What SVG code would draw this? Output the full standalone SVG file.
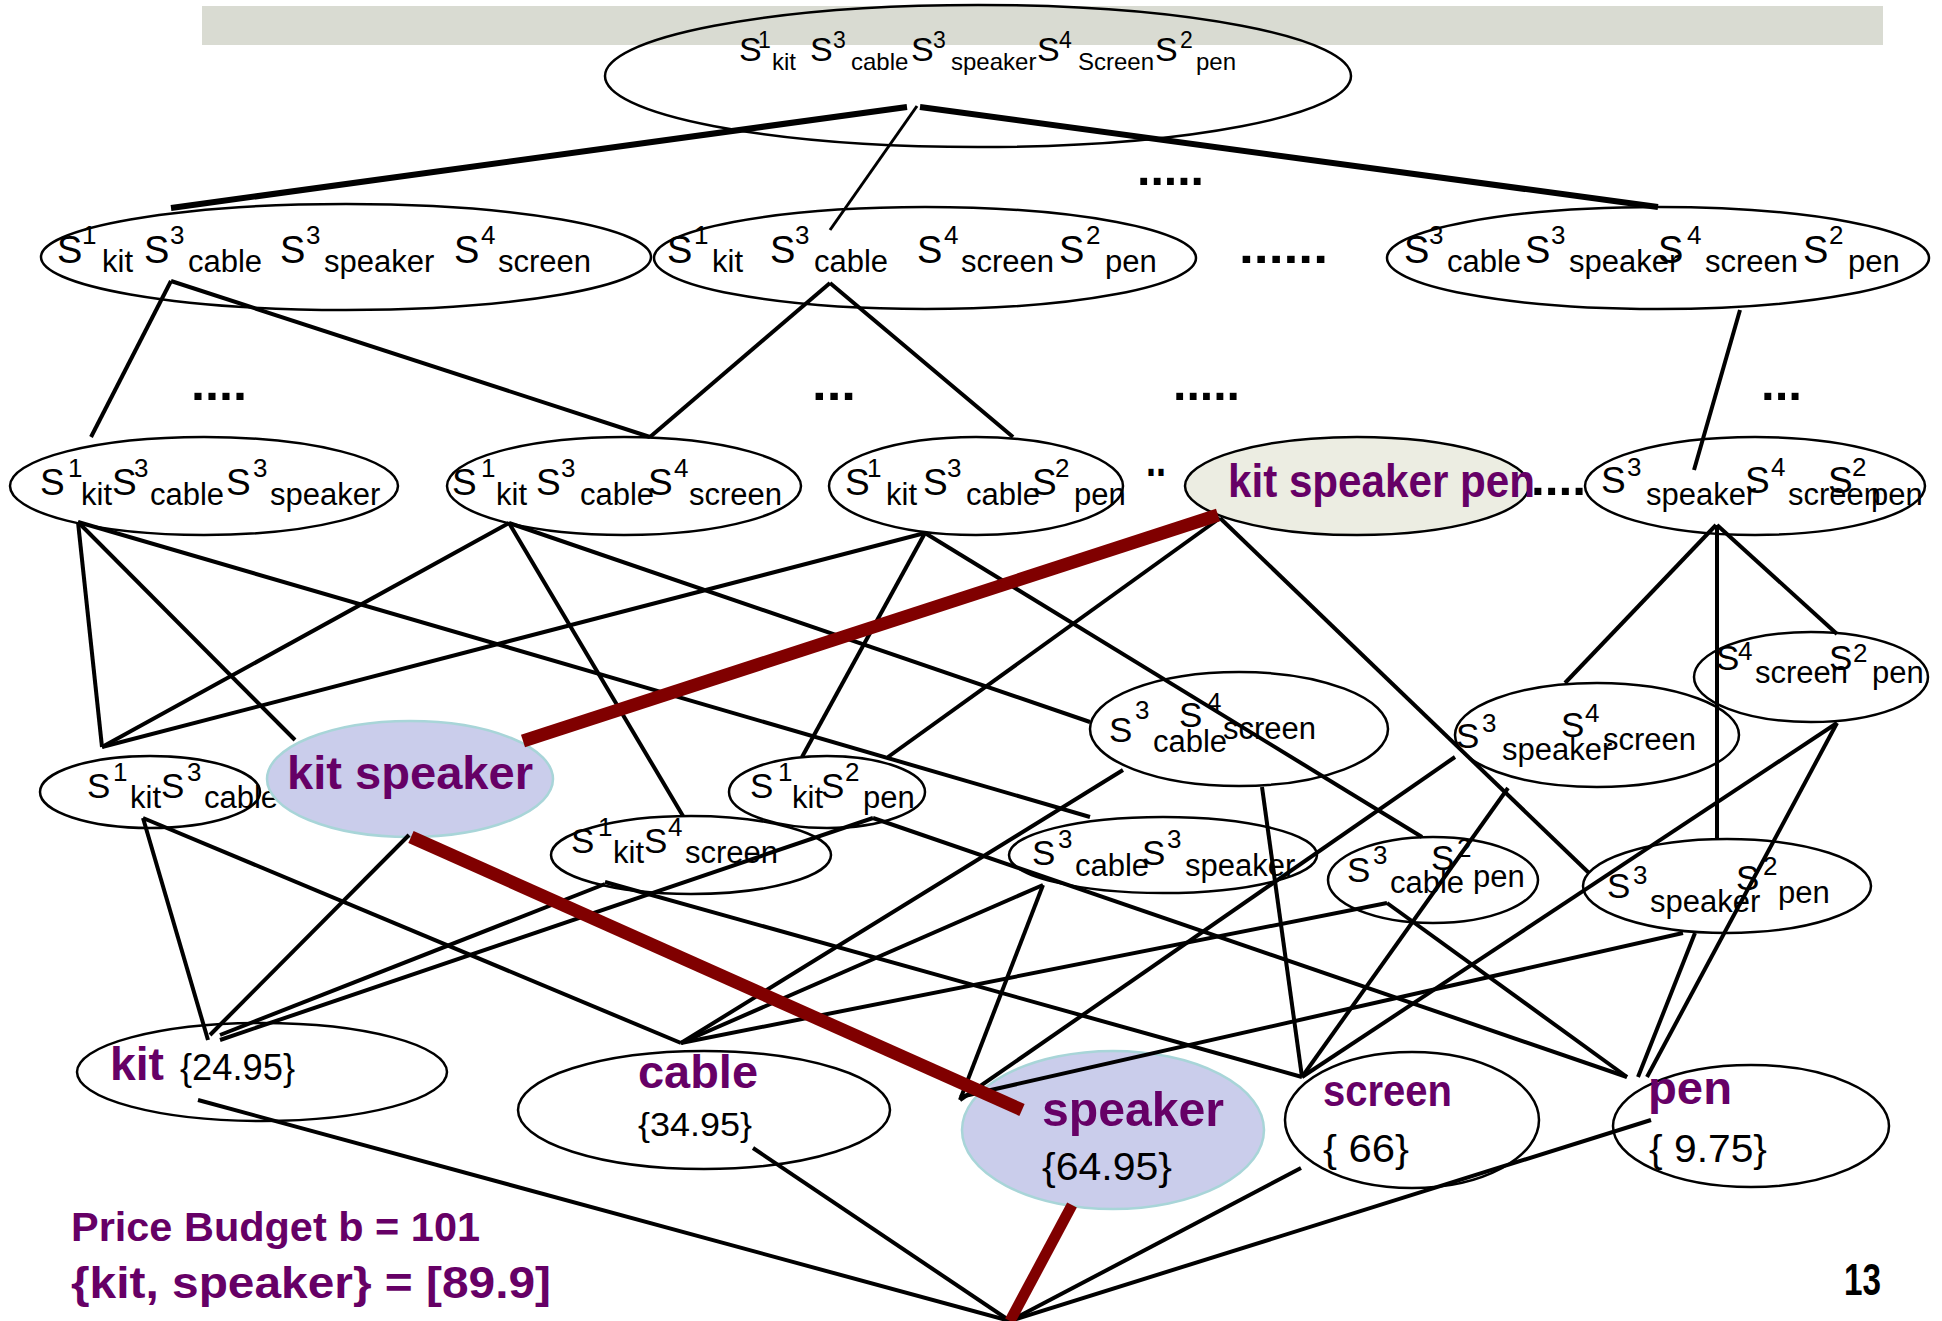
<svg xmlns="http://www.w3.org/2000/svg" width="1942" height="1321" viewBox="0 0 1942 1321">
<style>
text{font-family:"Liberation Sans",Arial,sans-serif;fill:#000}
.node ellipse{fill:none;stroke:#000;stroke-width:2.5}
.node ellipse.hl{fill:#CACDEB;stroke:#A8D5D8}
.node ellipse.ksp{fill:#ECEDE2}
.t0 .S{font-size:34px}.t0 .b{font-size:24px}.t0 .p{font-size:23px}
.t1 .S{font-size:38px}.t1 .b{font-size:31px}.t1 .p{font-size:26px}
.t2 .S{font-size:37px}.t2 .b{font-size:31px}.t2 .p{font-size:26px}
.t3 .S{font-size:35px}.t3 .b{font-size:31px}.t3 .p{font-size:26px}
.lbl{font-weight:bold;fill:#660066}
.val{fill:#000}
.dots{font-weight:bold;font-size:48px}
#edges line{stroke:#000;stroke-width:4}
#edges line.thick{stroke-width:6}
#edges line.thin{stroke-width:3}
#edges line.red{stroke:#800000;stroke-width:13}
</style>
<rect x="202" y="6" width="1681" height="39" fill="#D9DBD2"/>

<g id="n-top" class="node"><ellipse cx="978" cy="76" rx="373" ry="71"/>
<text class="t0"><tspan class="S" x="739" y="61">S</tspan><tspan class="p" x="758" y="48">1</tspan><tspan class="b" x="772" y="70">kit</tspan><tspan class="S" x="810" y="61">S</tspan><tspan class="p" x="833" y="48">3</tspan><tspan class="b" x="851" y="70">cable</tspan><tspan class="S" x="911" y="61">S</tspan><tspan class="p" x="933" y="48">3</tspan><tspan class="b" x="951" y="70">speaker</tspan><tspan class="S" x="1037" y="61">S</tspan><tspan class="p" x="1059" y="48">4</tspan><tspan class="b" x="1078" y="70">Screen</tspan><tspan class="S" x="1155" y="61">S</tspan><tspan class="p" x="1180" y="48">2</tspan><tspan class="b" x="1196" y="70">pen</tspan></text></g>

<g id="n-kcss" class="node"><ellipse cx="346" cy="257" rx="305" ry="53"/>
<text class="t1"><tspan class="S" x="57" y="263">S</tspan><tspan class="p" x="82" y="244">1</tspan><tspan class="b" x="102" y="272">kit</tspan><tspan class="S" x="144" y="263">S</tspan><tspan class="p" x="170" y="244">3</tspan><tspan class="b" x="188" y="272">cable</tspan><tspan class="S" x="280" y="263">S</tspan><tspan class="p" x="306" y="244">3</tspan><tspan class="b" x="324" y="272">speaker</tspan><tspan class="S" x="454" y="263">S</tspan><tspan class="p" x="481" y="244">4</tspan><tspan class="b" x="498" y="272">screen</tspan></text></g>

<g id="n-kcsp" class="node"><ellipse cx="925" cy="258" rx="271" ry="51"/>
<text class="t1"><tspan class="S" x="667" y="263">S</tspan><tspan class="p" x="694" y="244">1</tspan><tspan class="b" x="712" y="272">kit</tspan><tspan class="S" x="770" y="263">S</tspan><tspan class="p" x="795" y="244">3</tspan><tspan class="b" x="814" y="272">cable</tspan><tspan class="S" x="917" y="263">S</tspan><tspan class="p" x="944" y="244">4</tspan><tspan class="b" x="961" y="272">screen</tspan><tspan class="S" x="1059" y="263">S</tspan><tspan class="p" x="1086" y="244">2</tspan><tspan class="b" x="1105" y="272">pen</tspan></text></g>

<g id="n-cssp" class="node"><ellipse cx="1658" cy="258" rx="271" ry="51"/>
<text class="t1"><tspan class="S" x="1404" y="263">S</tspan><tspan class="p" x="1429" y="244">3</tspan><tspan class="b" x="1447" y="272">cable</tspan><tspan class="S" x="1525" y="263">S</tspan><tspan class="p" x="1551" y="244">3</tspan><tspan class="b" x="1569" y="272">speaker</tspan><tspan class="S" x="1658" y="263">S</tspan><tspan class="p" x="1687" y="244">4</tspan><tspan class="b" x="1705" y="272">screen</tspan><tspan class="S" x="1803" y="263">S</tspan><tspan class="p" x="1829" y="244">2</tspan><tspan class="b" x="1848" y="272">pen</tspan></text></g>

<g id="n-kcs" class="node"><ellipse cx="204" cy="486" rx="194" ry="49"/>
<text class="t2"><tspan class="S" x="40" y="495">S</tspan><tspan class="p" x="68" y="477">1</tspan><tspan class="b" x="81" y="505">kit</tspan><tspan class="S" x="112" y="495">S</tspan><tspan class="p" x="134" y="477">3</tspan><tspan class="b" x="150" y="505">cable</tspan><tspan class="S" x="226" y="495">S</tspan><tspan class="p" x="253" y="477">3</tspan><tspan class="b" x="270" y="505">speaker</tspan></text></g>

<g id="n-kcsc" class="node"><ellipse cx="624" cy="486" rx="177" ry="49"/>
<text class="t2"><tspan class="S" x="452" y="495">S</tspan><tspan class="p" x="481" y="477">1</tspan><tspan class="b" x="496" y="505">kit</tspan><tspan class="S" x="536" y="495">S</tspan><tspan class="p" x="561" y="477">3</tspan><tspan class="b" x="580" y="505">cable</tspan><tspan class="S" x="648" y="495">S</tspan><tspan class="p" x="674" y="477">4</tspan><tspan class="b" x="689" y="505">screen</tspan></text></g>

<g id="n-kcp" class="node"><ellipse cx="976" cy="486" rx="147" ry="49"/>
<text class="t2"><tspan class="S" x="845" y="495">S</tspan><tspan class="p" x="867" y="477">1</tspan><tspan class="b" x="886" y="505">kit</tspan><tspan class="S" x="923" y="495">S</tspan><tspan class="p" x="947" y="477">3</tspan><tspan class="b" x="966" y="505">cable</tspan><tspan class="S" x="1032" y="495">S</tspan><tspan class="p" x="1055" y="477">2</tspan><tspan class="b" x="1074" y="505">pen</tspan></text></g>

<g id="n-ksp" class="node"><ellipse class="ksp" cx="1357" cy="486" rx="172" ry="49"/>
<text class="lbl" x="1228" y="497" font-size="46" textLength="307" lengthAdjust="spacingAndGlyphs">kit speaker pen</text></g>

<g id="n-ssp" class="node"><ellipse cx="1755" cy="486" rx="170" ry="49"/>
<text class="t2"><tspan class="S" x="1601" y="493">S</tspan><tspan class="p" x="1627" y="476">3</tspan><tspan class="b" x="1646" y="505">speaker</tspan><tspan class="S" x="1745" y="493">S</tspan><tspan class="p" x="1771" y="476">4</tspan><tspan class="b" x="1788" y="505">screen</tspan><tspan class="S" x="1828" y="493">S</tspan><tspan class="p" x="1852" y="476">2</tspan><tspan class="b" x="1871" y="505">pen</tspan></text></g>

<g id="n-kc" class="node"><ellipse cx="150" cy="792" rx="110" ry="36"/>
<text class="t3"><tspan class="S" x="87" y="798">S</tspan><tspan class="p" x="113" y="781">1</tspan><tspan class="b" x="130" y="808">kit</tspan><tspan class="S" x="161" y="798">S</tspan><tspan class="p" x="187" y="781">3</tspan><tspan class="b" x="204" y="808">cable</tspan></text></g>

<g id="n-ks" class="node"><ellipse class="hl" cx="410" cy="779" rx="143" ry="58"/>
<text class="lbl" x="287" y="789" font-size="47" textLength="246" lengthAdjust="spacingAndGlyphs">kit speaker</text></g>

<g id="n-kp" class="node"><ellipse cx="827" cy="792" rx="98" ry="36"/>
<text class="t3"><tspan class="S" x="750" y="798">S</tspan><tspan class="p" x="778" y="781">1</tspan><tspan class="b" x="792" y="808">kit</tspan><tspan class="S" x="821" y="798">S</tspan><tspan class="p" x="845" y="781">2</tspan><tspan class="b" x="863" y="808">pen</tspan></text></g>

<g id="n-ksc" class="node"><ellipse cx="691" cy="855" rx="140" ry="39"/>
<text class="t3"><tspan class="S" x="571" y="853">S</tspan><tspan class="p" x="598" y="836">1</tspan><tspan class="b" x="613" y="863">kit</tspan><tspan class="S" x="644" y="853">S</tspan><tspan class="p" x="668" y="836">4</tspan><tspan class="b" x="685" y="863">screen</tspan></text></g>

<g id="n-csc" class="node"><ellipse cx="1239" cy="729" rx="149" ry="57"/>
<text class="t3"><tspan class="S" x="1109" y="742">S</tspan><tspan class="p" x="1135" y="719">3</tspan><tspan class="b" x="1153" y="752">cable</tspan><tspan class="S" x="1179" y="727">S</tspan><tspan class="p" x="1207" y="711">4</tspan><tspan class="b" x="1223" y="739">screen</tspan></text></g>

<g id="n-cs" class="node"><ellipse cx="1163" cy="855" rx="154" ry="38"/>
<text class="t3"><tspan class="S" x="1032" y="865">S</tspan><tspan class="p" x="1058" y="848">3</tspan><tspan class="b" x="1075" y="876">cable</tspan><tspan class="S" x="1142" y="865">S</tspan><tspan class="p" x="1167" y="848">3</tspan><tspan class="b" x="1185" y="876">speaker</tspan></text></g>

<g id="n-cp" class="node"><ellipse cx="1433" cy="880" rx="105" ry="43"/>
<text class="t3"><tspan class="S" x="1347" y="882">S</tspan><tspan class="p" x="1373" y="864">3</tspan><tspan class="b" x="1390" y="893">cable</tspan><tspan class="S" x="1431" y="870">S</tspan><tspan class="p" x="1457" y="857">2</tspan><tspan class="b" x="1473" y="887">pen</tspan></text></g>

<g id="n-ssc" class="node"><ellipse cx="1597" cy="735" rx="142" ry="52"/>
<text class="t3"><tspan class="S" x="1456" y="748">S</tspan><tspan class="p" x="1482" y="732">3</tspan><tspan class="b" x="1502" y="760">speaker</tspan><tspan class="S" x="1561" y="737">S</tspan><tspan class="p" x="1585" y="722">4</tspan><tspan class="b" x="1603" y="750">screen</tspan></text></g>

<g id="n-scp" class="node"><ellipse cx="1811" cy="677" rx="117" ry="45"/>
<text class="t3"><tspan class="S" x="1716" y="670">S</tspan><tspan class="p" x="1738" y="660">4</tspan><tspan class="b" x="1755" y="683">screen</tspan><tspan class="S" x="1829" y="670">S</tspan><tspan class="p" x="1853" y="662">2</tspan><tspan class="b" x="1872" y="683">pen</tspan></text></g>

<g id="n-sp" class="node"><ellipse cx="1727" cy="886" rx="144" ry="47"/>
<text class="t3"><tspan class="S" x="1607" y="898">S</tspan><tspan class="p" x="1633" y="884">3</tspan><tspan class="b" x="1650" y="912">speaker</tspan><tspan class="S" x="1736" y="890">S</tspan><tspan class="p" x="1763" y="875">2</tspan><tspan class="b" x="1778" y="903">pen</tspan></text></g>

<g id="n-kit" class="node"><ellipse cx="262" cy="1072" rx="185" ry="49"/>
<text class="lbl" x="110" y="1080" font-size="46" textLength="54" lengthAdjust="spacingAndGlyphs">kit</text>
<text class="val" x="180" y="1080" font-size="36" textLength="115" lengthAdjust="spacingAndGlyphs">{24.95}</text></g>

<g id="n-cable" class="node"><ellipse cx="704" cy="1110" rx="186" ry="59"/>
<text class="lbl" x="638" y="1088" font-size="47" textLength="120" lengthAdjust="spacingAndGlyphs">cable</text>
<text class="val" x="638" y="1136" font-size="34" textLength="114" lengthAdjust="spacingAndGlyphs">{34.95}</text></g>

<g id="n-speaker" class="node"><ellipse class="hl" cx="1113" cy="1130" rx="151" ry="79"/>
<text class="lbl" x="1042" y="1126" font-size="48" textLength="182" lengthAdjust="spacingAndGlyphs">speaker</text>
<text class="val" x="1042" y="1180" font-size="38" textLength="130" lengthAdjust="spacingAndGlyphs">{64.95}</text></g>

<g id="n-screen" class="node"><ellipse cx="1412" cy="1120" rx="127" ry="68"/>
<text class="lbl" x="1323" y="1106" font-size="44" textLength="129" lengthAdjust="spacingAndGlyphs">screen</text>
<text class="val" x="1323" y="1162" font-size="38" textLength="86" lengthAdjust="spacingAndGlyphs">{ 66}</text></g>

<g id="n-pen" class="node"><ellipse cx="1751" cy="1126" rx="138" ry="61"/>
<text class="lbl" x="1648" y="1104" font-size="47" textLength="84" lengthAdjust="spacingAndGlyphs">pen</text>
<text class="val" x="1649" y="1162" font-size="38" textLength="118" lengthAdjust="spacingAndGlyphs">{ 9.75}</text></g>

<g id="ellipsis">
<text class="dots" x="1137" y="185" textLength="67" lengthAdjust="spacingAndGlyphs">.....</text>
<text class="dots" x="1239" y="263" textLength="89" lengthAdjust="spacingAndGlyphs">......</text>
<text class="dots" x="191" y="400" textLength="56" lengthAdjust="spacingAndGlyphs">....</text>
<text class="dots" x="812" y="400" textLength="44" lengthAdjust="spacingAndGlyphs">...</text>
<text class="dots" x="1173" y="400" textLength="67" lengthAdjust="spacingAndGlyphs">.....</text>
<text class="dots" x="1761" y="400" textLength="41" lengthAdjust="spacingAndGlyphs">...</text>
<text class="dots" x="1146" y="476" textLength="20" lengthAdjust="spacingAndGlyphs">..</text>
<text class="dots" x="1531" y="495" textLength="55" lengthAdjust="spacingAndGlyphs">....</text>
</g>

<g id="edges">
<line class="thick" x1="907" y1="107" x2="171" y2="208"/>
<line class="thin" x1="917" y1="106" x2="830" y2="230"/>
<line class="thick" x1="920" y1="107" x2="1658" y2="207"/>
<line x1="171" y1="281" x2="91" y2="437"/>
<line x1="171" y1="281" x2="650" y2="437"/>
<line x1="830" y1="283" x2="650" y2="437"/>
<line x1="830" y1="283" x2="1013" y2="437"/>
<line x1="1740" y1="310" x2="1694" y2="470"/>
<line x1="78" y1="522" x2="102" y2="747"/>
<line x1="78" y1="522" x2="295" y2="740"/>
<line x1="78" y1="522" x2="1090" y2="817"/>
<line x1="509" y1="523" x2="102" y2="747"/>
<line x1="509" y1="523" x2="683" y2="816"/>
<line x1="509" y1="523" x2="1090" y2="722"/>
<line x1="925" y1="533" x2="102" y2="747"/>
<line x1="925" y1="533" x2="802" y2="757"/>
<line x1="925" y1="533" x2="1422" y2="837"/>
<line x1="1220" y1="518" x2="888" y2="757"/>
<line x1="1220" y1="518" x2="1589" y2="873"/>
<line x1="1716" y1="525" x2="1565" y2="683"/>
<line x1="1717" y1="525" x2="1717" y2="838"/>
<line x1="1717" y1="525" x2="1837" y2="634"/>
<line x1="143" y1="818" x2="208" y2="1040"/>
<line x1="143" y1="818" x2="681" y2="1043"/>
<line x1="409" y1="835" x2="210" y2="1035"/>
<line x1="605" y1="884" x2="220" y2="1035"/>
<line x1="873" y1="818" x2="220" y2="1040"/>
<line x1="605" y1="882" x2="1302" y2="1077"/>
<line x1="873" y1="818" x2="1627" y2="1077"/>
<line x1="1123" y1="770" x2="681" y2="1043"/>
<line x1="1262" y1="787" x2="1302" y2="1077"/>
<line x1="1043" y1="885" x2="681" y2="1043"/>
<line x1="1043" y1="885" x2="960" y2="1100"/>
<line x1="1387" y1="903" x2="681" y2="1043"/>
<line x1="1387" y1="903" x2="1627" y2="1077"/>
<line x1="1455" y1="757" x2="960" y2="1100"/>
<line x1="1508" y1="788" x2="1302" y2="1077"/>
<line x1="1837" y1="723" x2="1302" y2="1077"/>
<line x1="1837" y1="723" x2="1647" y2="1077"/>
<line x1="1695" y1="933" x2="1638" y2="1077"/>
<line x1="1683" y1="933" x2="960" y2="1097"/>
<line x1="198" y1="1100" x2="1010" y2="1321"/>
<line x1="753" y1="1148" x2="1010" y2="1321"/>
<line x1="1301" y1="1168" x2="1010" y2="1321"/>
<line x1="1651" y1="1120" x2="1010" y2="1321"/>
<line class="red" x1="1218" y1="515" x2="523" y2="741"/>
<line class="red" x1="411" y1="837" x2="1022" y2="1110"/>
<line class="red" x1="1072" y1="1205" x2="1010" y2="1321" style="stroke-width:11"/>
</g>

<text class="lbl" x="71" y="1241" font-size="40" textLength="409" lengthAdjust="spacingAndGlyphs">Price Budget b = 101</text>
<text class="lbl" x="71" y="1298" font-size="44" textLength="480" lengthAdjust="spacingAndGlyphs">{kit, speaker} = [89.9]</text>
<text x="1844" y="1295" font-size="44" font-weight="bold" textLength="37" lengthAdjust="spacingAndGlyphs">13</text>
</svg>
